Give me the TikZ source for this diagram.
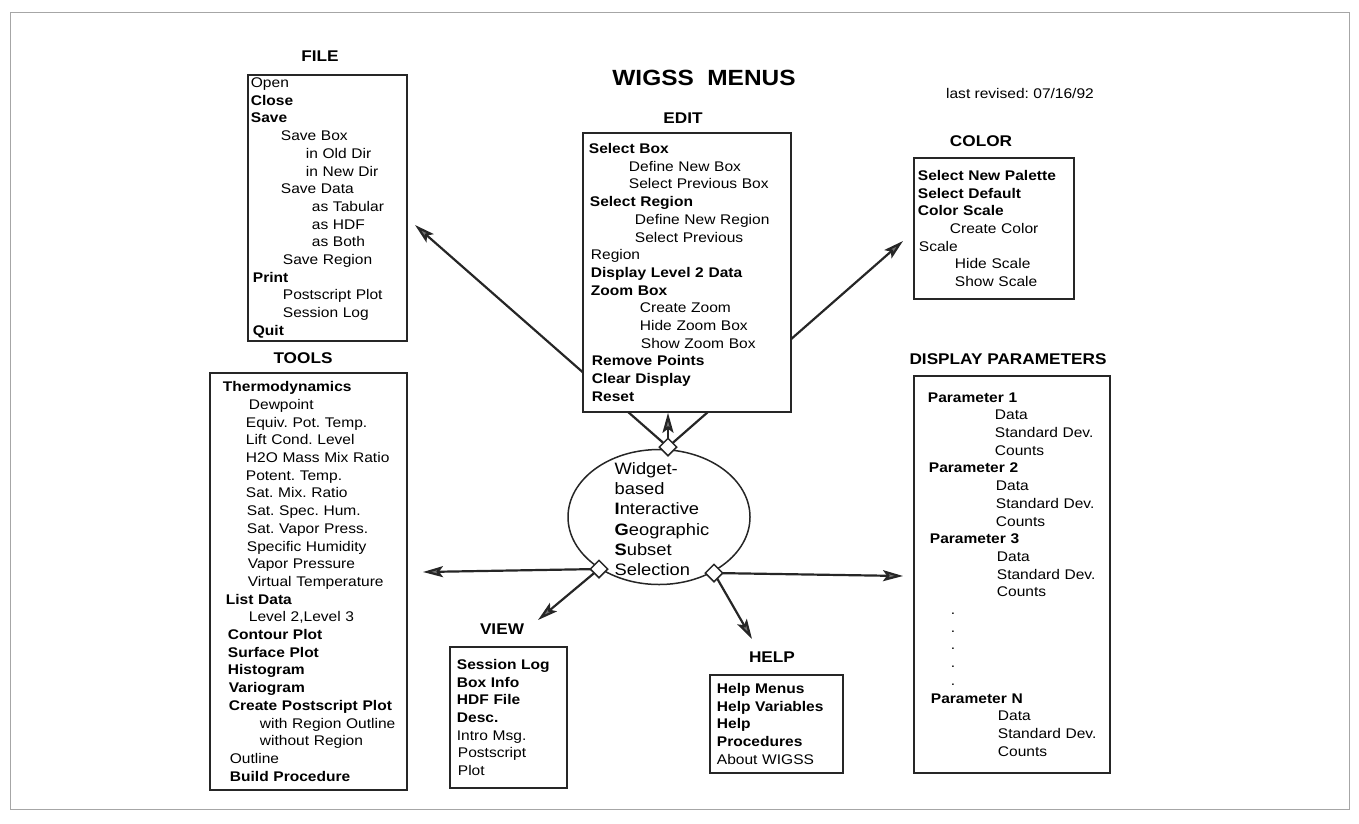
\documentclass[tikz,border=0pt]{standalone}
\usepackage{fontspec}
\setmainfont{Liberation Sans}[FakeStretch=1.11]
\usetikzlibrary{shapes.geometric,arrows.meta,backgrounds}
\newcommand{\lvl}[1]{\hspace*{#1pt}}
\frenchspacing
\tikzset{
  menubox/.style={draw=black!85, line width=1.8pt, fill=white, anchor=north west, align=left,
    inner xsep=0pt, inner ysep=0pt, font=\fontsize{14}{17.7}\selectfont},
  menutitle/.style={font=\bfseries\fontsize{15.5}{18}\selectfont},
  link/.style={draw=black!85, line width=2.2pt, -{Stealth[length=20pt,width=11pt,inset=4pt,fill=black!55]}},
  joint/.style={diamond, draw=black!85, fill=white, line width=1.5pt, minimum size=18pt, inner sep=0pt}
}
\begin{document}
\begin{tikzpicture}[x=1pt,y=-1pt]
	\useasboundingbox (0,0) rectangle (1359,823);
	\draw[gray!70, line width=0.8pt] (10,12) rectangle (1349,809);

	\node[font=\bfseries\fontsize{22}{26}\selectfont] (title) at (704,78) {WIGSS\ \ MENUS};
	\node[font=\fontsize{14}{17}\selectfont] (revised) at (1020,93) {last revised: 07/16/92};

	% FILE
	\node[menutitle] (filelabel) at (320,56) {FILE};
	\node[menubox, text width=159pt, minimum height=266pt] (file) at (247,74) {
	   \lvl{3}Open\\
	   \lvl{3}\textbf{Close}\\
	   \lvl{3}\textbf{Save}\\
	   \lvl{33}Save Box\\
	   \lvl{58}in Old Dir\\
	   \lvl{58}in New Dir\\
	   \lvl{33}Save Data\\
	   \lvl{64}as Tabular\\
	   \lvl{64}as HDF\\
	   \lvl{64}as Both\\
	   \lvl{35}Save Region\\
	   \lvl{5}\textbf{Print}\\
	   \lvl{35}Postscript Plot\\
	   \lvl{35}Session Log\\
	   \lvl{5}\textbf{Quit}};

	% EDIT
	\node[menutitle] (editlabel) at (683,118) {EDIT};
	\node[menubox, text width=208pt, minimum height=279pt] (edit) at (582,132) {
	   \lvl{6}\textbf{Select Box}\\
	   \lvl{46}Define New Box\\
	   \lvl{46}Select Previous Box\\
	   \lvl{7}\textbf{Select Region}\\
	   \lvl{52}Define New Region\\
	   \lvl{52}Select Previous\\
	   \lvl{8}Region\\
	   \lvl{8}\textbf{Display Level 2 Data}\\
	   \lvl{8}\textbf{Zoom Box}\\
	   \lvl{57}Create Zoom\\
	   \lvl{57}Hide Zoom Box\\
	   \lvl{58}Show Zoom Box\\
	   \lvl{9}\textbf{Remove Points}\\
	   \lvl{9}\textbf{Clear Display}\\
	   \lvl{9}\textbf{Reset}};

	% COLOR
	\node[menutitle] (colorlabel) at (981,141) {COLOR};
	\node[menubox, text width=160pt, minimum height=141pt] (color) at (913,157) {
	   \lvl{4}\textbf{Select New Palette}\\
	   \lvl{4}\textbf{Select Default}\\
	   \lvl{4}\textbf{Color Scale}\\
	   \lvl{36}Create Color\\
	   \lvl{5}Scale\\
	   \lvl{41}Hide Scale\\
	   \lvl{41}Show Scale};

	% TOOLS
	\node[menutitle] (toolslabel) at (303,358) {TOOLS};
	\node[menubox, text width=197pt, minimum height=417pt] (tools) at (209,372) {
	   \lvl{13}\textbf{Thermodynamics}\\
	   \lvl{39}Dewpoint\\
	   \lvl{36}Equiv. Pot. Temp.\\
	   \lvl{36}Lift Cond. Level\\
	   \lvl{36}H2O Mass Mix Ratio\\
	   \lvl{36}Potent. Temp.\\
	   \lvl{36}Sat. Mix. Ratio\\
	   \lvl{37}Sat. Spec. Hum.\\
	   \lvl{37}Sat. Vapor Press.\\
	   \lvl{37}Specific Humidity\\
	   \lvl{38}Vapor Pressure\\
	   \lvl{38}Virtual Temperature\\
	   \lvl{16}\textbf{List Data}\\
	   \lvl{39}Level 2,Level 3\\
	   \lvl{18}\textbf{Contour Plot}\\
	   \lvl{18}\textbf{Surface Plot}\\
	   \lvl{18}\textbf{Histogram}\\
	   \lvl{19}\textbf{Variogram}\\
	   \lvl{19}\textbf{Create Postscript Plot}\\
	   \lvl{50}with Region Outline\\
	   \lvl{50}without Region\\
	   \lvl{20}Outline\\
	   \lvl{20}\textbf{Build Procedure}};

	% DISPLAY PARAMETERS
	\node[menutitle] (dparamlabel) at (1008,359) {DISPLAY\ PARAMETERS};
	\node[menubox, text width=196pt, minimum height=397pt] (dparam) at (913,375) {
	   \lvl{14}\textbf{Parameter 1}\\
	   \lvl{81}Data\\
	   \lvl{81}Standard Dev.\\
	   \lvl{81}Counts\\
	   \lvl{15}\textbf{Parameter 2}\\
	   \lvl{82}Data\\
	   \lvl{82}Standard Dev.\\
	   \lvl{82}Counts\\
	   \lvl{16}\textbf{Parameter 3}\\
	   \lvl{83}Data\\
	   \lvl{83}Standard Dev.\\
	   \lvl{83}Counts\\
	   \lvl{37}.\\
	   \lvl{37}.\\
	   \lvl{37}.\\
	   \lvl{37}.\\
	   \lvl{37}.\\
	   \lvl{17}\textbf{Parameter N}\\
	   \lvl{84}Data\\
	   \lvl{84}Standard Dev.\\
	   \lvl{84}Counts};

	% VIEW
	\node[menutitle] (viewlabel) at (502,629) {VIEW};
	\node[menubox, text width=117pt, minimum height=141pt] (view) at (449,646) {
	   \lvl{7}\textbf{Session Log}\\
	   \lvl{7}\textbf{Box Info}\\
	   \lvl{7}\textbf{HDF File}\\
	   \lvl{7}\textbf{Desc.}\\
	   \lvl{7}Intro Msg.\\
	   \lvl{8}Postscript\\
	   \lvl{8}Plot};

	% HELP
	\node[menutitle] (helplabel) at (772,657) {HELP};
	\node[menubox, text width=133pt, minimum height=98pt] (help) at (709,674) {
	   \lvl{7}\textbf{Help Menus}\\
	   \lvl{7}\textbf{Help Variables}\\
	   \lvl{7}\textbf{Help}\\
	   \lvl{7}\textbf{Procedures}\\
	   \lvl{7}About WIGSS};

	% centre
	\node[ellipse, draw=black!85, line width=1.5pt, fill=white, minimum width=182pt, minimum height=135pt, inner sep=0pt] (wigss) at (659,517) {};
	\node[align=left, font=\fontsize{16.5}{20.3}\selectfont] (wigsstext) at (662,519)
	   {Widget-\\based\\\textbf{I}nteractive\\\textbf{G}eographic\\\textbf{S}ubset\\Selection};
	\node[joint] (dtop) at (668,447) {};
	\node[joint] (dleft) at (599,569) {};
	\node[joint] (dright) at (714,573) {};

	\coordinate (filetip) at (415,225);
	\coordinate (colortip) at (903,241);
	\coordinate (toolstip) at (423,572);
	\coordinate (dparamtip) at (903,576);
	\coordinate (viewtip) at (538,620);
	\coordinate (helptip) at (752,639);

	\begin{pgfonlayer}{background}
	   \draw[link] (dtop.center) -- (filetip);
	   \draw[link] (dtop.center) -- (colortip);
	   \draw[link] (dtop.center) -- (dtop.center |- edit.south);
	   \draw[link] (dleft.center) -- (toolstip);
	   \draw[link] (dleft.center) -- (viewtip);
	   \draw[link] (dright.center) -- (dparamtip);
	   \draw[link] (dright.center) -- (helptip);
	\end{pgfonlayer}
\end{tikzpicture}
\end{document}
